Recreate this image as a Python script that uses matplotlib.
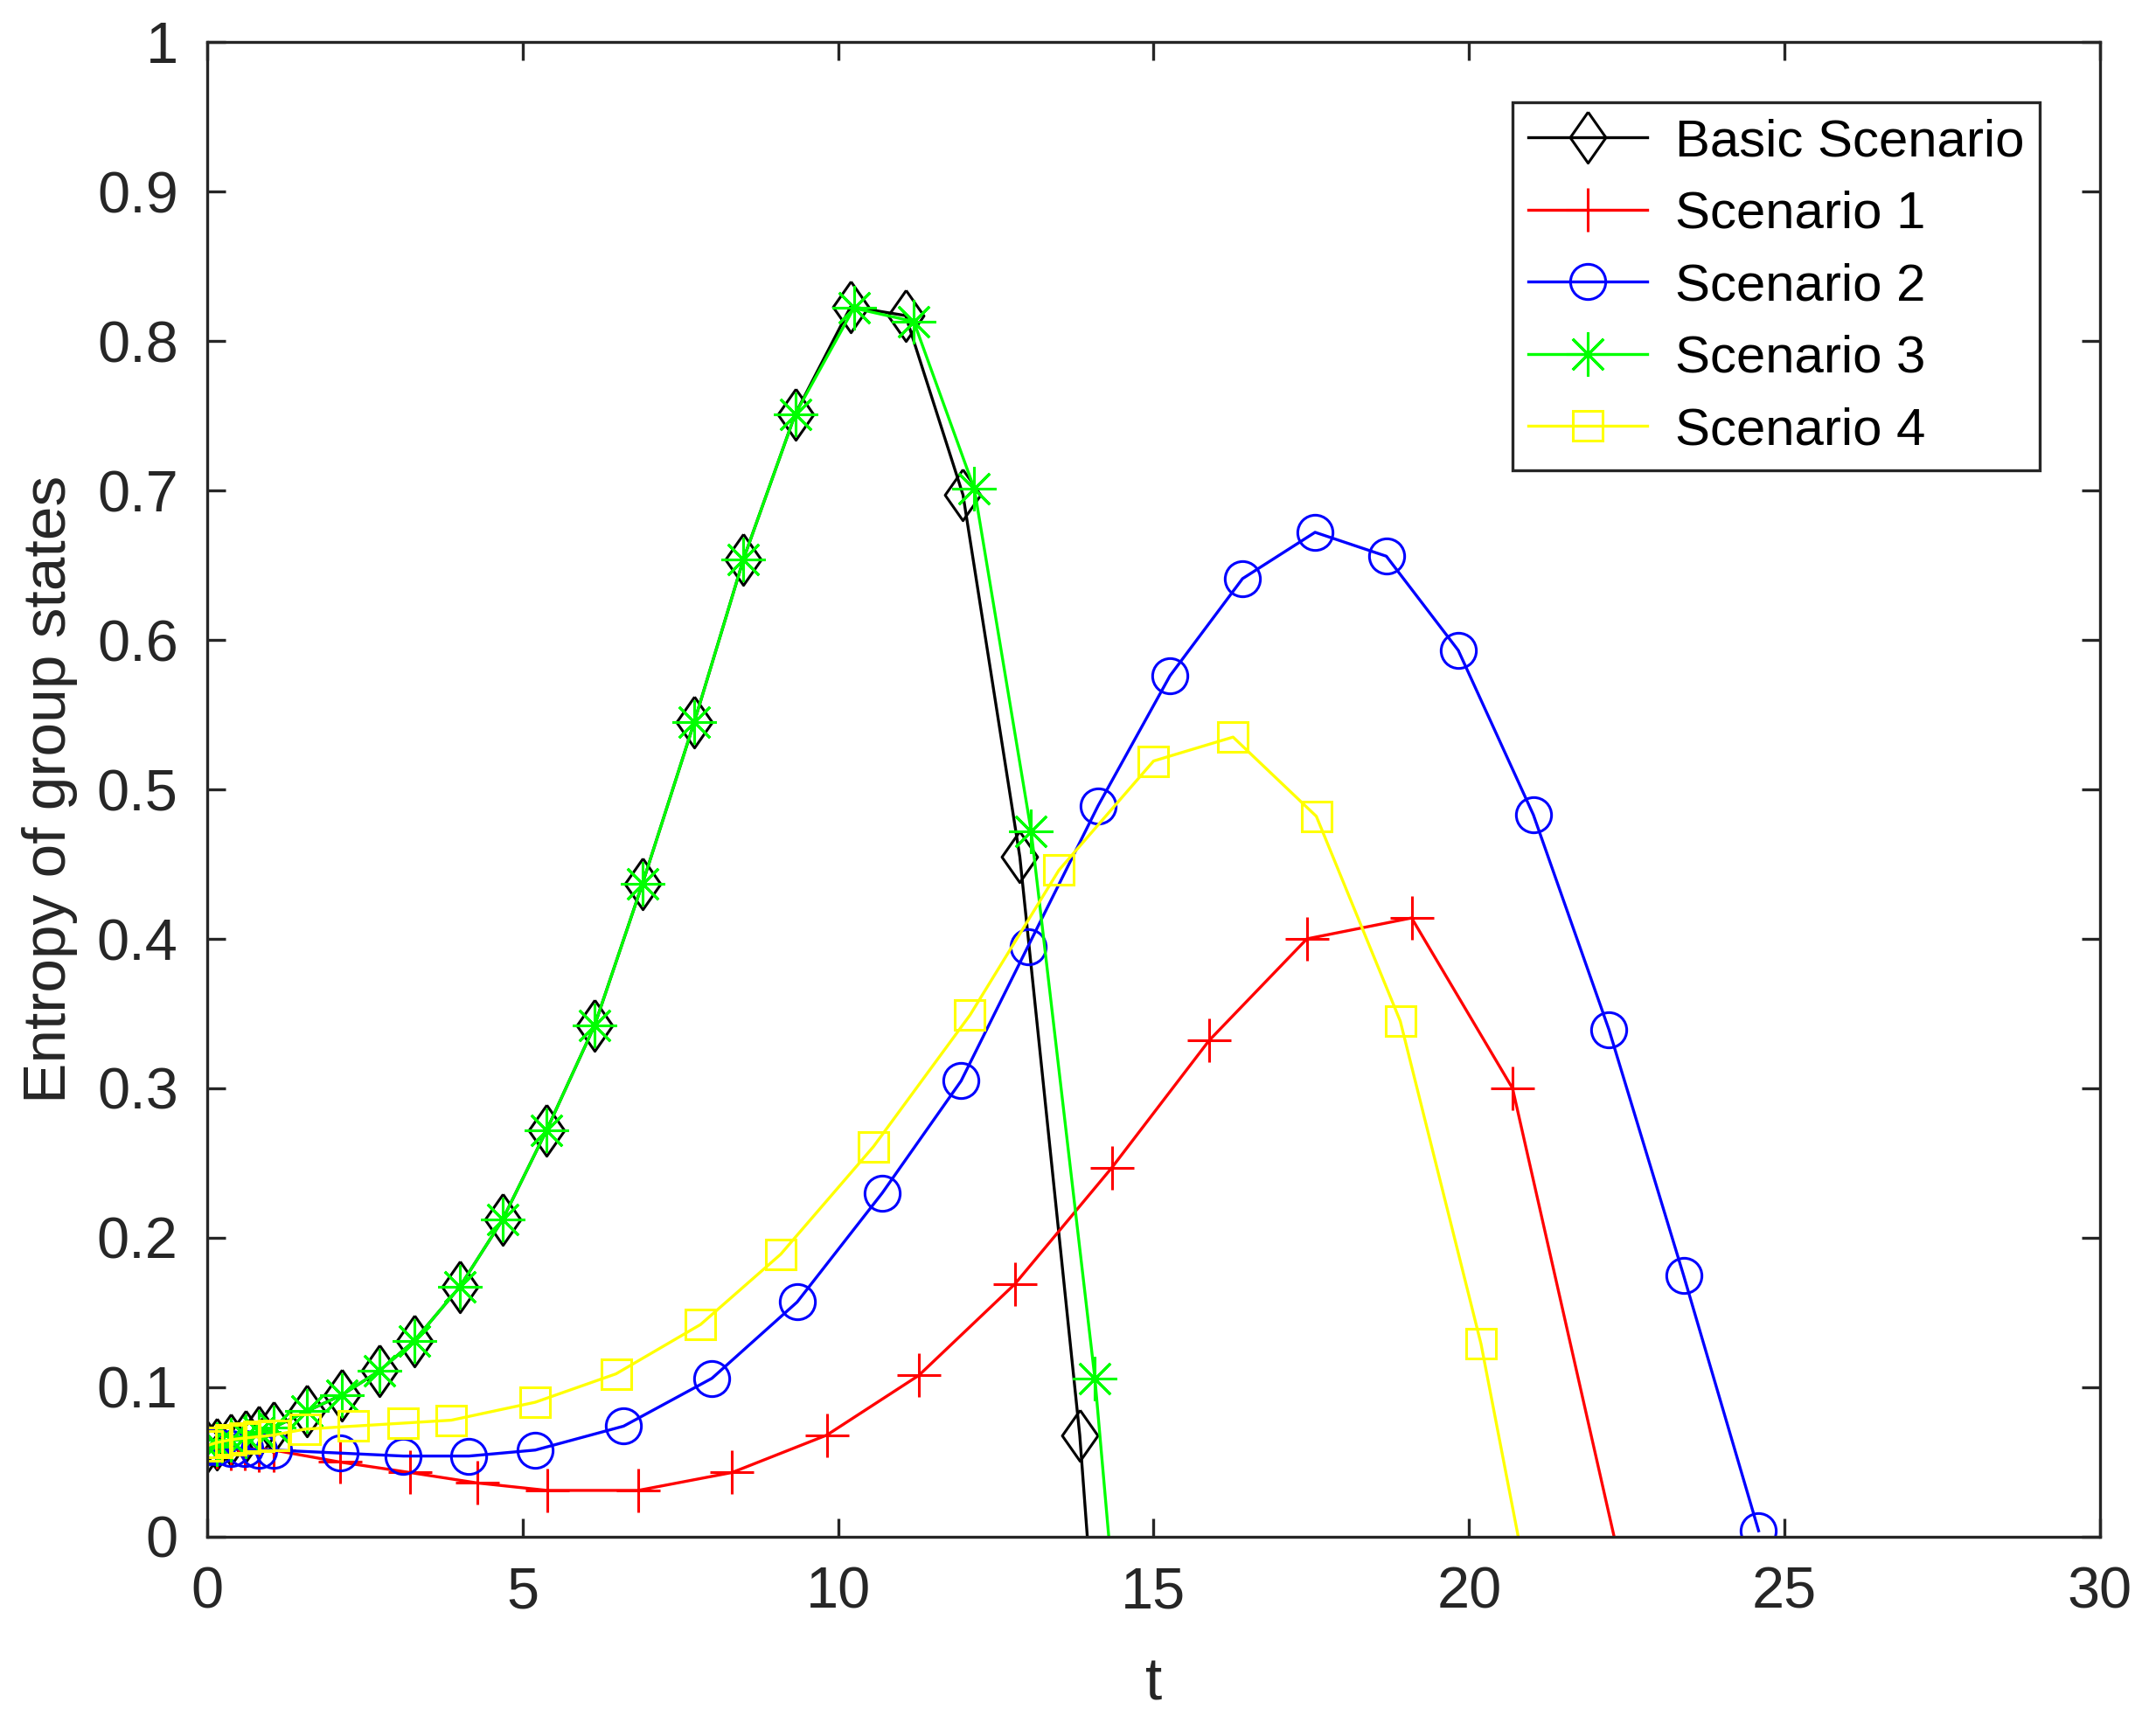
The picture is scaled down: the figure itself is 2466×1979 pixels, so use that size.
import matplotlib
matplotlib.use("Agg")
import matplotlib.pyplot as plt

plt.rcParams['font.family'] = ['Liberation Sans', 'DejaVu Sans']

# Basic Scenario
t_basic = [0, 0.15, 0.38, 0.61, 0.82, 1.05, 1.58, 2.14, 2.73, 3.28, 4.0, 4.68, 5.38,
           6.14, 6.9, 7.72, 8.5, 9.32, 10.2, 11.07, 11.98, 12.88, 13.83, 13.95]
y_basic = [0.060, 0.062, 0.065, 0.067, 0.070, 0.073, 0.084, 0.095, 0.111, 0.131, 0.167, 0.212, 0.272,
           0.342, 0.437, 0.545, 0.654, 0.751, 0.823, 0.817, 0.697, 0.455, 0.068, 0.0]

# Scenario 1
t_s1 = [0, 0.15, 0.38, 0.59, 0.82, 1.05, 2.1, 3.21, 4.28, 5.39, 6.83, 8.32, 9.82,
        11.28, 12.8, 14.34, 15.88, 17.43, 19.09, 20.69, 22.3]
y_s1 = [0.060, 0.060, 0.059, 0.059, 0.058, 0.058, 0.050, 0.043, 0.036, 0.031, 0.031, 0.043, 0.068,
        0.108, 0.169, 0.247, 0.332, 0.400, 0.414, 0.300, 0.0]

# Scenario 2
t_s2 = [0, 0.15, 0.38, 0.59, 0.82, 1.05, 2.1, 3.11, 4.15, 5.2, 6.6, 8.0, 9.35,
        10.7, 11.95, 13.01, 14.12, 15.26, 16.41, 17.56, 18.69, 19.83, 21.02, 22.22, 23.4, 24.59]
y_s2 = [0.060, 0.060, 0.059, 0.059, 0.058, 0.058, 0.056, 0.054, 0.054, 0.058, 0.074, 0.106, 0.157,
        0.230, 0.305, 0.395, 0.489, 0.576, 0.641, 0.672, 0.656, 0.593, 0.483, 0.339, 0.175, 0.004]

# Scenario 3
t_s3 = [0, 0.15, 0.38, 0.61, 0.82, 1.05, 1.58, 2.14, 2.73, 3.28, 4.0, 4.68, 5.38,
        6.14, 6.9, 7.72, 8.5, 9.32, 10.25, 11.2, 12.16, 13.06, 14.07, 14.29]
y_s3 = [0.060, 0.062, 0.065, 0.067, 0.070, 0.073, 0.084, 0.095, 0.111, 0.131, 0.167, 0.212, 0.272,
        0.342, 0.437, 0.545, 0.654, 0.751, 0.822, 0.813, 0.701, 0.472, 0.106, 0.0]

# Scenario 4
t_s4 = [0, 0.15, 0.38, 0.59, 0.82, 1.05, 1.55, 2.32, 3.1, 3.87, 5.2, 6.48, 7.82,
        9.09, 10.56, 12.09, 13.5, 15.0, 16.26, 17.58, 18.91, 20.19, 20.78]
y_s4 = [0.061, 0.063, 0.065, 0.066, 0.067, 0.068, 0.072, 0.074, 0.076, 0.078, 0.090, 0.109, 0.142,
        0.189, 0.261, 0.349, 0.446, 0.519, 0.535, 0.482, 0.345, 0.129, 0.0]

labels = ['Basic Scenario', 'Scenario 1', 'Scenario 2', 'Scenario 3', 'Scenario 4']
xticks = [0, 5, 10, 15, 20, 25, 30]
yticks = [0, 0.1, 0.2, 0.3, 0.4, 0.5, 0.6, 0.7, 0.8, 0.9, 1]
ytick_labels = ['0', '0.1', '0.2', '0.3', '0.4', '0.5', '0.6', '0.7', '0.8', '0.9', '1']

gray = (0.15, 0.15, 0.15)
# matlab style diamond, a bit taller than wide
diamond = [(0, 1), (0.7, 0), (0, -1), (-0.7, 0), (0, 1)]

fig = plt.figure(figsize=(12.33, 9.895), dpi=200)
ax = fig.add_axes([0.0961, 0.1117, 0.8779, 0.864])

lw = 1.2
mew = 1.1
ax.plot(t_basic, y_basic, color='k', lw=lw, marker=diamond, ms=21, mfc='none', mew=mew,
        markevery=slice(0, len(t_basic) - 1), label=labels[0])
ax.plot(t_s1, y_s1, color='r', lw=lw, marker='+', ms=18, mew=mew,
        markevery=slice(0, len(t_s1) - 1), label=labels[1])
ax.plot(t_s2, y_s2, color='b', lw=lw, marker='o', ms=14.5, mfc='none', mew=mew, label=labels[2])
ax.plot(t_s3, y_s3, color=(0, 1, 0), lw=lw, marker=(8, 2, 0), ms=18, mew=mew,
        markevery=slice(0, len(t_s3) - 1), label=labels[3])
ax.plot(t_s4, y_s4, color=(1, 1, 0), lw=lw, marker='s', ms=12, mfc='none', mew=mew,
        markevery=slice(0, len(t_s4) - 1), label=labels[4])

ax.set_xlim(0, 30)
ax.set_ylim(0, 1)
ax.set_xticks(xticks)
ax.set_yticks(yticks)
ax.set_yticklabels(ytick_labels)
ax.tick_params(direction='in', length=7.5, width=1.2, top=True, right=True,
               labelsize=24, colors=gray, pad=12)
for sp in ax.spines.values():
    sp.set_linewidth(1.2)
    sp.set_color(gray)

ax.set_xlabel('t', fontsize=25, color=gray, labelpad=15)
ax.set_ylabel('Entropy of group states', fontsize=25, color=gray, labelpad=8)

leg = ax.legend(loc='upper right', fontsize=21.6, fancybox=False, framealpha=1,
                edgecolor=gray, handlelength=2.27, labelspacing=0.46,
                borderaxespad=1.15, handletextpad=0.53, borderpad=0.3)
leg.get_frame().set_linewidth(1.2)
for txt in leg.get_texts():
    txt.set_color('k')

fig.savefig('out.png', dpi=200)
